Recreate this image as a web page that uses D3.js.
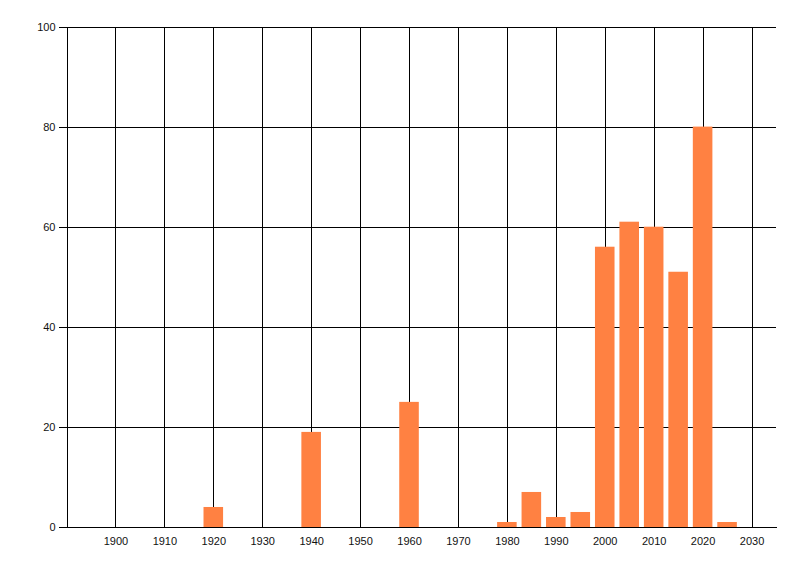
<!DOCTYPE html>
<html>
<head>
<meta charset="utf-8">
<script src="https://cdn.jsdelivr.net/npm/d3@7.9.0/dist/d3.min.js"></script>
<style>
  html, body { margin: 0; padding: 0; background: #fff; }
  svg { display: block; }
  .axis text { font-family: "Liberation Sans", Arial, sans-serif; font-size: 11px; fill: #111; }
  .axis path, .axis line, .grid line { stroke: #000; stroke-width: 1; shape-rendering: crispEdges; }
  .grid path { display: none; }
</style>
</head>
<body>
<div id="chart"></div>
<script>
// values
const years = [1920, 1940, 1960, 1980, 1985, 1990, 1995, 2000, 2005, 2010, 2015, 2020, 2025];
const counts = [4, 19, 25, 1, 7, 2, 3, 56, 61, 60, 51, 80, 1];
const xTicks = [1900, 1910, 1920, 1930, 1940, 1950, 1960, 1970, 1980, 1990, 2000, 2010, 2020, 2030];
const yTicks = [0, 20, 40, 60, 80, 100];
const xDomain = [1890, 2035];
const yDomain = [0, 100];
const barYears = 4;

const bars = years.map((year, i) => ({ year, count: counts[i] }));

const width = 800;
const height = 576;
const margin = { top: 26.5, right: 24, bottom: 49, left: 66.5 };

const svg = d3.select('#chart')
  .append('svg')
  .attr('width', width)
  .attr('height', height);

const x = d3.scaleLinear().domain(xDomain).range([margin.left, width - margin.right]);
const y = d3.scaleLinear().domain(yDomain).range([height - margin.bottom, margin.top]);

const plotW = x.range()[1] - x.range()[0];
const plotH = y.range()[0] - y.range()[1];

// gridlines
svg.append('g')
  .attr('class', 'grid')
  .attr('transform', `translate(0, ${margin.top})`)
  .call(d3.axisBottom(x).tickValues(xTicks).tickFormat('').tickSize(plotH).tickSizeOuter(0));

svg.append('g')
  .attr('class', 'grid')
  .attr('transform', `translate(${margin.left}, 0)`)
  .call(d3.axisLeft(y).tickValues(yTicks).tickFormat('').tickSize(-plotW).tickSizeOuter(0));

// bars
svg.append('g')
  .selectAll('rect')
  .data(bars)
  .join('rect')
  .attr('x', (d) => x(d.year - barYears / 2))
  .attr('width', (d) => x(d.year + barYears / 2) - x(d.year - barYears / 2))
  .attr('y', (d) => y(d.count))
  .attr('height', (d) => y(0) - y(d.count))
  .attr('fill', '#ff8142');

// axes
const xAxis = svg.append('g')
  .attr('class', 'axis')
  .attr('transform', `translate(0, ${y(0)})`)
  .call(d3.axisBottom(x).tickValues(xTicks).tickFormat(d3.format('d')).tickSize(0).tickSizeOuter(0).tickPadding(10));

const yAxis = svg.append('g')
  .attr('class', 'axis')
  .attr('transform', `translate(${margin.left}, 0)`)
  .call(d3.axisLeft(y).tickValues(yTicks).tickSize(8).tickSizeOuter(0).tickPadding(3));
</script>
</body>
</html>
